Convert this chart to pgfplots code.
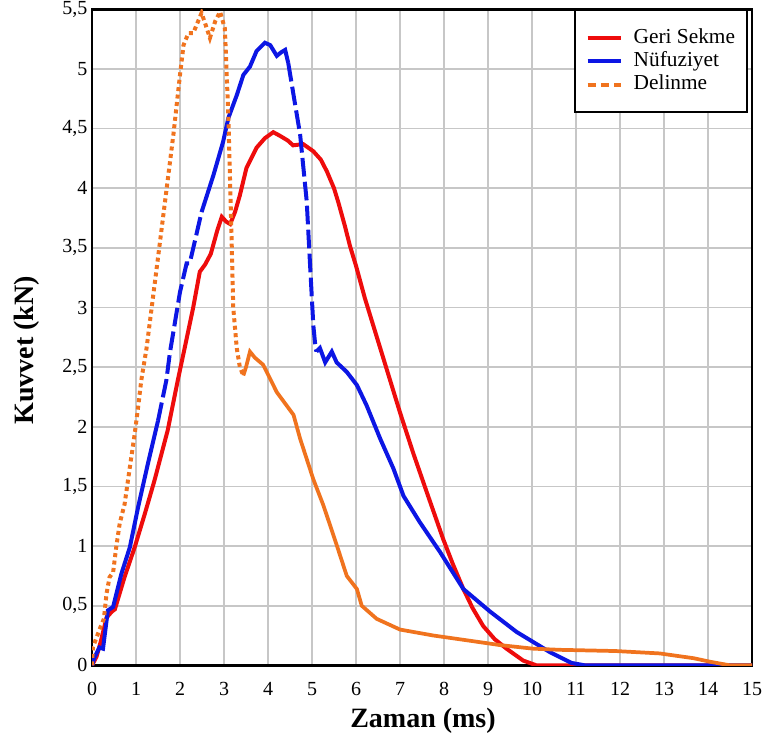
\documentclass[border=0pt]{standalone}
\usepackage{pgfplots}
\pgfplotsset{compat=1.18}
\usepackage{fontspec}
\setmainfont{Liberation Serif}

\definecolor{geri}{RGB}{238,12,12}
\definecolor{nufu}{RGB}{12,22,228}
\definecolor{delin}{RGB}{240,115,30}

\begin{document}
\begin{tikzpicture}
\begin{axis}[
  scale only axis,
  width=495pt, height=492pt,
  xmin=0, xmax=15, ymin=0, ymax=5.5,
  xtick distance=1, ytick distance=0.5,
  grid=major,
  grid style={line width=1.2pt, color=black!22},
  axis line style={line width=2pt},
  major tick length=0pt,
  tick label style={font=\fontsize{15}{15}\selectfont},
  /pgf/number format/assume math mode=true,
  /pgf/number format/use comma,
  xticklabel style={yshift=-9pt},
  xlabel={Zaman (ms)},
  ylabel={Kuvvet (kN)},
  label style={font=\fontsize{21}{21}\selectfont\bfseries},
  xlabel style={at={(axis description cs:0.5015,-0.085)}, anchor=center},
  ylabel style={at={(axis description cs:-0.0985,0.48)}, anchor=center},
  legend image code/.code={\draw[#1] (0pt,0pt) -- (25pt,0pt);},
  legend style={at={(axis description cs:0.994,1.0)}, anchor=north east,
    draw=black, line width=1.5pt, inner xsep=8pt, inner ysep=12.5pt,
    row sep=1pt, column sep=7pt,
    font=\fontsize{16}{16}\selectfont,
    nodes={inner sep=1pt, text height=11pt, text depth=3.5pt},
    cells={anchor=west}},
]

% Geri Sekme
\addplot[geri, line width=3pt] coordinates {
  (0,0) (0.1,0.07) (0.2,0.2) (0.33,0.4) (0.45,0.45) (0.52,0.47) (0.74,0.74)
  (0.97,0.99) (1.2,1.27) (1.42,1.55) (1.72,1.97) (1.95,2.39) (2.1,2.65)
  (2.3,3.0) (2.45,3.3) (2.57,3.36) (2.7,3.45) (2.85,3.65) (2.95,3.76)
  (3.05,3.72) (3.14,3.70) (3.25,3.8) (3.36,3.94) (3.51,4.17) (3.74,4.34)
  (3.93,4.42) (4.12,4.47) (4.27,4.44) (4.45,4.40) (4.57,4.36) (4.8,4.37)
  (5.03,4.31) (5.2,4.24) (5.34,4.14) (5.5,4.0) (5.6,3.88) (5.75,3.68)
  (5.86,3.52) (6.0,3.35) (6.2,3.08) (6.55,2.66) (7.0,2.12) (7.3,1.78)
  (7.61,1.45) (7.98,1.06) (8.2,0.85) (8.44,0.64) (8.65,0.48) (8.89,0.33)
  (9.15,0.22) (9.42,0.14) (9.8,0.04) (10.1,0) (15,0)
};
\addlegendentry{Geri Sekme}

% Nufuziyet (steep parts drawn dashed as in the original)
\addplot[nufu, line width=3pt] coordinates {
  (0,0) (0.06,0.07) (0.17,0.15) (0.25,0.14) (0.36,0.46) (0.48,0.49)
  (0.67,0.77) (0.86,0.99) (1.05,1.33) (1.27,1.69) (1.5,2.05)
};
\addlegendentry{Nüfuziyet}
\addplot[nufu, line width=3pt, dash pattern=on 14pt off 4pt, forget plot] coordinates {
  (1.5,2.05) (1.69,2.39) (1.77,2.62) (2.0,3.13) (2.15,3.37) (2.22,3.37)
  (2.34,3.56) (2.49,3.80)
};
\addplot[nufu, line width=3pt, forget plot] coordinates {
  (2.49,3.80) (2.76,4.11) (2.98,4.39) (3.1,4.59) (3.29,4.78) (3.44,4.95)
  (3.59,5.02) (3.74,5.15) (3.93,5.22) (4.05,5.20) (4.2,5.11) (4.3,5.14)
  (4.39,5.16) (4.46,5.05)
};
\addplot[nufu, line width=3pt, dash pattern=on 14pt off 4pt, forget plot] coordinates {
  (4.46,5.05) (4.73,4.45) (4.88,3.89) (4.95,3.40) (5.03,2.85) (5.07,2.7)
  (5.1,2.63)
};
\addplot[nufu, line width=3pt, forget plot] coordinates {
  (5.1,2.63) (5.18,2.66) (5.3,2.54) (5.45,2.63) (5.56,2.54) (5.79,2.46)
  (6.02,2.35) (6.24,2.18) (6.55,1.90) (6.85,1.65) (7.08,1.42) (7.45,1.20)
  (7.91,0.95) (8.44,0.64) (9.05,0.45) (9.65,0.28) (10.41,0.11) (10.9,0.02)
  (11.2,0) (15,0)
};

% Delinme
\addplot[delin, line width=3pt, dash pattern=on 3pt off 2.6pt,
  legend image post style={dash pattern=on 6pt off 4pt}] coordinates {
  (0,0) (0.02,0.15) (0.17,0.3) (0.27,0.39) (0.33,0.6) (0.4,0.74) (0.48,0.78)
  (0.55,0.99) (0.63,1.19) (0.74,1.35) (0.86,1.66) (0.97,1.94) (1.05,2.17)
  (1.12,2.39) (1.24,2.66) (1.47,3.33) (1.66,3.89) (1.85,4.45) (2.0,4.95)
  (2.08,5.2) (2.19,5.3) (2.3,5.3) (2.49,5.47) (2.6,5.35) (2.68,5.26)
  (2.8,5.4) (2.91,5.48) (3.02,5.34) (3.1,4.59) (3.17,3.61) (3.21,3.0)
  (3.29,2.66) (3.36,2.5) (3.44,2.43)
};
\addlegendentry{Delinme}
\addplot[delin, line width=2.8pt, forget plot] coordinates {
  (3.44,2.43) (3.5,2.5) (3.59,2.63) (3.7,2.58) (3.89,2.52) (4.2,2.29)
  (4.58,2.10) (4.73,1.90) (5.03,1.56) (5.26,1.34) (5.56,1.01) (5.79,0.75)
  (6.02,0.64) (6.13,0.50) (6.47,0.39) (7.0,0.30) (7.76,0.25) (8.52,0.21)
  (9.27,0.17) (10.02,0.14) (10.64,0.13) (11.9,0.12) (12.9,0.10) (13.67,0.06)
  (14.05,0.03) (14.5,0) (15,0)
};
\end{axis}
\pgfresetboundingbox
\path[use as bounding box] (-69pt,-59pt) rectangle (505.5pt,499pt);
\end{tikzpicture}
\end{document}
